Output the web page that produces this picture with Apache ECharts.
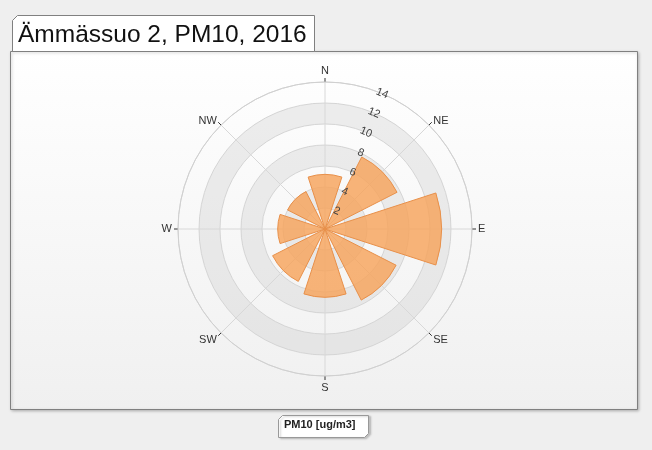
<!DOCTYPE html>
<html>
<head>
<meta charset="utf-8">
<script src="https://cdn.jsdelivr.net/npm/echarts@6/dist/echarts.min.js"></script>
<style>
html, body { margin: 0; padding: 0; background: #efefef; }
#chart { width: 652px; height: 450px; }
</style>
</head>
<body>
<div id="chart"></div>
<script>
// directions listed counter-clockwise from north (axis runs anticlockwise)
var directions = ["N", "NW", "W", "SW", "S", "SE", "E", "NE"];
var pm10 = [5.2, 4.0, 4.5, 5.6, 6.5, 7.6, 11.1, 7.7];
var radiusTicks = [0, 14, 2];
var seriesName = "PM10 [ug/m3]";
var titleText = "Ämmässuo 2, PM10, 2016";

var chart = echarts.init(document.getElementById("chart"));
var font = "Liberation Sans, Arial, sans-serif";

// diagonal labels sit a bit closer to the horizontal through the tick
function dirItem(d) {
	if (d.length == 2) {
		var north = d.charAt(0) == "N";
		return { value : d, textStyle : { padding : north ? [0, 0, -6, 0] : [-3, 0, 0, 0] } };
	}
	return d;
}

var opt = {
	backgroundColor : "#efefef",
	animation : false,
	title : {
		text : titleText,
		left : 13,
		top : 18,
		textStyle : { fontFamily : font, fontSize : 24.5, fontWeight : "normal", color : "#111" }
	},
	legend : {
		data : [ seriesName ],
		left : 279,
		top : 418,
		padding : 0,
		icon : "none",
		itemWidth : 0,
		itemGap : 0,
		textStyle : { fontFamily : font, fontSize : 11, fontWeight : "bold", color : "#222", padding : 0 }
	},
	graphic : [ {
		type : "rect",
		z : -10,
		shape : { x : 10.5, y : 51.5, width : 627, height : 358 },
		style : {
			fill : new echarts.graphic.LinearGradient(0, 0, 0, 1, [
				{ offset : 0, color : "#ffffff" }, { offset : 1, color : "#f0f0f0" } ]),
			stroke : "#808080",
			lineWidth : 1,
			shadowBlur : 3,
			shadowColor : "rgba(0,0,0,0.25)",
			shadowOffsetX : 1,
			shadowOffsetY : 1
		}
	}, {
		type : "polygon",
		z : -5,
		shape : { points : [ [12.5, 20.5], [17.5, 15.5], [314.5, 15.5], [314.5, 51.5], [12.5, 51.5] ] },
		style : { fill : "#fff", stroke : "#808080", lineWidth : 1 }
	}, {
		type : "polygon",
		z : -5,
		shape : { points : [ [278.5, 419.5], [282.5, 415.5], [368.5, 415.5], [368.5, 433.5], [364.5, 437.5], [278.5, 437.5] ] },
		style : { fill : "#fff", stroke : "#999", lineWidth : 1,
			shadowBlur : 2, shadowColor : "rgba(0,0,0,0.2)", shadowOffsetX : 2, shadowOffsetY : 1 }
	} ],
	polar : [ { center : [325, 229], radius : 147 }, { center : [325, 229], radius : 147 } ],
	angleAxis : [ {
		polarIndex : 0,
		type : "category",
		data : directions.map(dirItem),
		startAngle : 67.5,
		clockwise : false,
		boundaryGap : true,
		axisLine : { lineStyle : { color : "#d0d0d0", width : 1 } },
		axisTick : { show : true, alignWithLabel : true, length : 4, lineStyle : { color : "#333" } },
		axisLabel : { fontFamily : font, fontSize : 11, color : "#333", margin : 6 },
		splitLine : { show : true, lineStyle : { color : "#d8d8d8", width : 1 } }
	}, {
		polarIndex : 1,
		type : "category",
		data : directions,
		startAngle : 67.5,
		clockwise : false,
		show : false
	} ],
	radiusAxis : [ {
		polarIndex : 0,
		min : radiusTicks[0],
		max : radiusTicks[1],
		interval : radiusTicks[2],
		axisLine : { show : false },
		axisTick : { show : false },
		axisLabel : { show : false },
		splitLine : { show : true, lineStyle : { color : "#d8d8d8", width : 1 } },
		splitArea : { show : true, areaStyle : { color : [ "rgba(0,0,0,0)", "rgba(200,200,200,0.3)" ] } }
	}, {
		polarIndex : 1,
		z : 10,
		min : radiusTicks[0],
		max : radiusTicks[1],
		interval : radiusTicks[2],
		axisLine : { show : false },
		axisTick : { show : false },
		splitLine : { show : false },
		axisLabel : {
			showMinLabel : false,
			rotate : -22.5,
			margin : -7,
			fontFamily : font,
			fontSize : 11,
			color : "#444"
		}
	} ],
	series : [ {
		name : seriesName,
		type : "bar",
		coordinateSystem : "polar",
		polarIndex : 0,
		data : pm10,
		barCategoryGap : "20%",
		itemStyle : { color : "rgba(247,163,92,0.82)", borderColor : "#e8904a", borderWidth : 1 }
	} ]
};
chart.setOption(opt);
</script>
</body>
</html>
